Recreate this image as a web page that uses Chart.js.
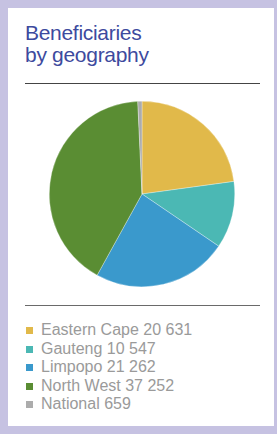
<!DOCTYPE html>
<html>
<head>
<meta charset="utf-8">
<script src="https://cdn.jsdelivr.net/npm/chart.js@4"></script>
<style>
  html, body { margin: 0; padding: 0; background: #fff; }
  .frame {
    position: absolute; left: 0; top: 0; width: 277px; height: 434px;
    box-sizing: border-box; background: #fff;
    border-style: solid; border-color: #c6c2e2;
    border-width: 8px 3px 8px 8px;
    font-family: "Liberation Sans", Arial, sans-serif;
  }
  .title {
    position: absolute; left: 17px; top: 14px;
    color: #3d4a9e; font-size: 21px; line-height: 22px; letter-spacing: -0.3px;
  }
  .rule { position: absolute; left: 17px; width: 235px; height: 1px; }
  .chart { position: absolute; left: 41px; top: 93px; width: 186px; height: 186px; }
  .legend { position: absolute; left: 18px; top: 313px; }
  .legend div { height: 18.6px; line-height: 18.6px; font-size: 16px; color: #9a9a9a; white-space: nowrap; }
  .legend span { display: inline-block; width: 7px; height: 7px; margin-right: 8px; vertical-align: 1px; }
</style>
</head>
<body>
<div class="frame">
  <div class="title">Beneficiaries<br>by geography</div>
  <div class="rule" style="top:75px;background:#444;"></div>
  <div class="chart"><canvas id="pie"></canvas></div>
  <div class="rule" style="top:297px;background:#6a6a6a;"></div>
  <div class="legend" id="legend"></div>
</div>
<script>
// Beneficiaries by geography
const regions = ['Eastern Cape', 'Gauteng', 'Limpopo', 'North West', 'National'];
const beneficiaries = [20631, 10547, 21262, 37252, 659];
const valueLabels = ['20 631', '10 547', '21 262', '37 252', '659'];
const colours = ['#e1b94a', '#4bb8b4', '#3a99cc', '#5a8d33', '#acacac'];

const legend = document.getElementById('legend');
regions.forEach((r, i) => {
    const row = document.createElement('div');
    row.innerHTML = '<span style="background:' + colours[i] + '"></span>' + r + ' ' + valueLabels[i];
    legend.appendChild(row);
});

new Chart(document.getElementById('pie'), {
    type: 'pie',
    data: {
        labels: regions,
        datasets: [{
            data: beneficiaries,
            backgroundColor: colours,
            borderColor: 'rgba(255,255,255,0.6)',
            borderWidth: 0.5
        }]
    },
    options: {
        responsive: true, maintainAspectRatio: false,
        animation: false,
        layout: { padding: 0 },
        plugins: { legend: { display: false }, tooltip: { enabled: false } }
    }
});
</script>
</body>
</html>
